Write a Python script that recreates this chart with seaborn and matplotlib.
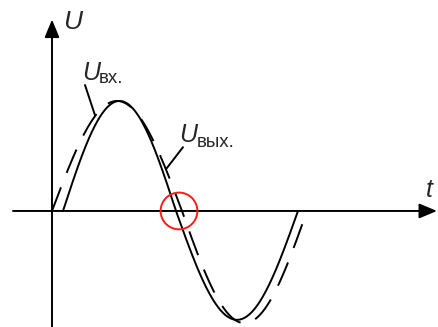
import numpy as np
import pandas as pd
import matplotlib
matplotlib.use('Agg')
import matplotlib.pyplot as plt
import seaborn as sns

################################################################################
# Values
################################################################################

# zero crossings (start, middle, end) of each half-wave, t in arbitrary units
curve_names = ['solid', 'dashed']
solid_zeros = [1.1, 12.4, 24.6]
dashed_zeros = [0.0, 13.0, 25.5]
# amplitudes of the positive and negative half-waves
solid_amp = [1.0, 0.99]
dashed_amp = [1.0, 1.02]

# point where the curves differ (red circle)
circle_t = [12.7]
circle_u = [0.0]

# labels
axis_u_label = 'U'
axis_t_label = 't'
label_in = ['U', 'вх.']
label_out = ['U', 'вых.']

################################################################################
# Build the curves
################################################################################

def halfWaves(zeros, amp, name):
    parts = []
    t1 = np.linspace(zeros[0], zeros[1], 200)
    parts.append(pd.DataFrame({'t': t1, 'U': amp[0] * np.sin(np.pi * (t1 - zeros[0]) / (zeros[1] - zeros[0]))}))
    t2 = np.linspace(zeros[1], zeros[2], 200)[1:]
    parts.append(pd.DataFrame({'t': t2, 'U': -amp[1] * np.sin(np.pi * (t2 - zeros[1]) / (zeros[2] - zeros[1]))}))
    df = pd.concat(parts, ignore_index=True)
    df['curve'] = name
    return df

df = pd.concat([halfWaves(solid_zeros, solid_amp, curve_names[0]),
                halfWaves(dashed_zeros, dashed_amp, curve_names[1])], ignore_index=True)

################################################################################
# Plot
################################################################################

sns.set_style('white')
plt.rcParams['font.family'] = ['Liberation Sans', 'DejaVu Sans']

fig = plt.figure(figsize=(4.38, 3.27), dpi=100)
ax = fig.add_axes([0, 0, 1, 1])
ax.set_xlim(-5.2, 38.6)
ax.set_ylim(-1.055, 1.918)
ax.axis('off')

# axes with arrows
arrow = dict(arrowstyle='-|>,head_length=0.6,head_width=0.25', color='black', lw=1.4,
             mutation_scale=18, shrinkA=0, shrinkB=0)
ax.annotate('', xy=(0, 1.74), xytext=(0, -1.06), arrowprops=arrow)
ax.annotate('', xy=(38.5, 0), xytext=(-3.9, 0), arrowprops=arrow)

sns.lineplot(data=df, x='t', y='U', style='curve', dashes={'solid': '', 'dashed': (13, 8)},
             color='black', lw=1.4, estimator=None, sort=False, legend=False, ax=ax)

sns.scatterplot(x=circle_t, y=circle_u, marker='o', s=700, facecolor='none',
                edgecolor='#ff1a1a', linewidth=1.4, ax=ax, zorder=5)

# labels
ax.text(1.1, 1.655, axis_u_label, fontsize=19, style='italic', ha='left', va='baseline')
ax.text(37.4, 0.127, axis_t_label, fontsize=18, style='italic', ha='left', va='baseline')

ax.text(3.0, 1.19, label_in[0], fontsize=18, style='italic', ha='left', va='baseline')
ax.text(4.7, 1.164, label_in[1], fontsize=13.5, ha='left', va='baseline')
ax.plot([3.3, 4.3], [1.145, 0.87], color='black', lw=1.4)

ax.text(12.7, 0.627, label_out[0], fontsize=18, style='italic', ha='left', va='baseline')
ax.text(14.5, 0.582, label_out[1], fontsize=13.5, ha='left', va='baseline')
ax.plot([13.1, 11.4], [0.58, 0.38], color='black', lw=1.4)

fig.savefig('out.png', dpi=100)
